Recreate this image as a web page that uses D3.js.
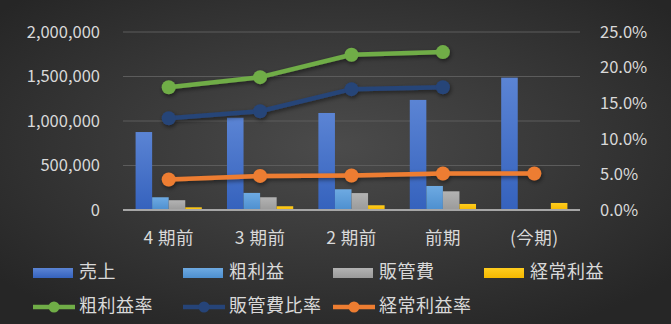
<!DOCTYPE html>
<html>
<head>
<meta charset="utf-8">
<script src="https://d3js.org/d3.v7.min.js"></script>
<style>
  body { margin: 0; background: #2a2a2a; }
  svg { display: block; font-family: "Noto Sans CJK JP", "Noto Sans", sans-serif; }
</style>
</head>
<body>
<svg id="chart" width="671" height="324"></svg>
<script>
// data
const periods = ["4 期前", "3 期前", "2 期前", "前期", "(今期)"];
const sales = [876000, 1037000, 1090000, 1237000, 1487000];
const grossProfit = [143000, 192000, 233000, 270000, 0];
const sgaCost = [110000, 143000, 190000, 210000, 0];
const ordinaryProfit = [30000, 42000, 53000, 68000, 79000];
const grossRate = [0.1725, 0.1866, 0.218, 0.2218, null];
const sgaRate = [0.1288, 0.1387, 0.1697, 0.1725, null];
const ordinaryRate = [0.0428, 0.0479, 0.0485, 0.0513, 0.0513];
const leftTicks = [0, 500000, 1000000, 1500000, 2000000];
const rightTicks = [0, 0.05, 0.10, 0.15, 0.20, 0.25];

const barSeries = [
  { name: "売上", values: sales, top: "#5b84d4", bottom: "#3562bd" },
  { name: "粗利益", values: grossProfit, top: "#6eaae2", bottom: "#4d8fcf" },
  { name: "販管費", values: sgaCost, top: "#b3b3b3", bottom: "#9a9a9a" },
  { name: "経常利益", values: ordinaryProfit, top: "#ffcd1f", bottom: "#f5b800" }
];
const lineSeries = [
  { name: "粗利益率", values: grossRate, color: "#70ad47" },
  { name: "販管費比率", values: sgaRate, color: "#264478" },
  { name: "経常利益率", values: ordinaryRate, color: "#ed7d31" }
];

const svg = d3.select("#chart");
const W = 671, H = 324;
const m = { left: 123, right: 91, top: 32, bottom: 114 };

const defs = svg.append("defs");
const bg = defs.append("radialGradient").attr("id", "bg")
  .attr("cx", "50%").attr("cy", "45%").attr("r", "65%");
bg.append("stop").attr("offset", "0%").attr("stop-color", "#4b4b4b");
bg.append("stop").attr("offset", "100%").attr("stop-color", "#262626");
svg.append("rect").attr("width", W).attr("height", H).attr("fill", "url(#bg)");

barSeries.forEach((s, i) => {
  const g = defs.append("linearGradient").attr("id", "bar" + i)
    .attr("x1", 0).attr("y1", 0).attr("x2", 0).attr("y2", 1);
  g.append("stop").attr("offset", "0%").attr("stop-color", s.top);
  g.append("stop").attr("offset", "100%").attr("stop-color", s.bottom);
});
const shadow = defs.append("filter").attr("id", "shadow")
  .attr("x", "-10%").attr("y", "-30%").attr("width", "120%").attr("height", "160%");
shadow.append("feDropShadow").attr("dx", 1).attr("dy", 2).attr("stdDeviation", 2)
  .attr("flood-color", "#000").attr("flood-opacity", 0.5);

const x = d3.scaleBand().domain(periods).range([m.left, W - m.right]);
const xs = d3.scaleBand().domain(d3.range(barSeries.length))
  .range([0, x.bandwidth()]).paddingOuter(0.76).paddingInner(0);
const y = d3.scaleLinear().domain([0, 2000000]).range([H - m.bottom, m.top]);
const y2 = d3.scaleLinear().domain([0, 0.25]).range([H - m.bottom, m.top]);

// gridlines
svg.append("g").selectAll("line").data(leftTicks.slice(1)).join("line")
  .attr("x1", m.left).attr("x2", W - m.right)
  .attr("y1", d => y(d)).attr("y2", d => y(d))
  .attr("stroke", "#5c5c5c").attr("stroke-width", 1);

const textColor = "#d9d9d9";

// left axis
const yAxis = svg.append("g").attr("transform", `translate(${m.left - 20},0)`)
  .call(d3.axisLeft(y).tickValues(leftTicks).tickFormat(d3.format(",")).tickSize(0));
yAxis.select(".domain").remove();
yAxis.selectAll("text").attr("fill", textColor).attr("font-size", 16.5)
  .attr("font-family", "Noto Sans CJK JP").attr("dx", 0);

// right axis
const yAxis2 = svg.append("g").attr("transform", `translate(${W - m.right + 17},0)`)
  .call(d3.axisRight(y2).tickValues(rightTicks).tickFormat(d3.format(".1%")).tickSize(0));
yAxis2.select(".domain").remove();
yAxis2.selectAll("text").attr("fill", textColor).attr("font-size", 16.5)
  .attr("font-family", "Noto Sans CJK JP");

// bars
barSeries.forEach((s, i) => {
  svg.append("g").selectAll("rect").data(s.values).join("rect")
    .attr("x", (d, j) => x(periods[j]) + xs(i))
    .attr("width", xs.bandwidth())
    .attr("y", d => y(d))
    .attr("height", d => y(0) - y(d))
    .attr("fill", `url(#bar${i})`);
});

// baseline
svg.append("line").attr("x1", m.left).attr("x2", W - m.right)
  .attr("y1", y(0)).attr("y2", y(0)).attr("stroke", "#a6a6a6").attr("stroke-width", 2);

// x labels
svg.append("g").selectAll("text").data(periods).join("text")
  .attr("x", d => x(d) + x.bandwidth() / 2).attr("y", 243.5)
  .attr("text-anchor", "middle").attr("fill", textColor).attr("font-size", 17.5)
  .attr("letter-spacing", 0.5)
  .text(d => d);

// lines
const line = d3.line()
  .defined(d => d != null)
  .x((d, j) => x(periods[j]) + x.bandwidth() / 2)
  .y(d => y2(d));
lineSeries.forEach(s => {
  const g = svg.append("g").attr("filter", "url(#shadow)");
  g.append("path").datum(s.values).attr("d", line)
    .attr("fill", "none").attr("stroke", s.color).attr("stroke-width", 4.5)
    .attr("stroke-linejoin", "round");
  g.selectAll("circle").data(s.values.map((v, j) => ({ v, j })).filter(d => d.v != null))
    .join("circle")
    .attr("cx", d => x(periods[d.j]) + x.bandwidth() / 2)
    .attr("cy", d => y2(d.v))
    .attr("r", 7).attr("fill", s.color);
});

// legend
const legendX = [33, 183, 333, 484];
const leg1 = svg.append("g");
barSeries.forEach((s, i) => {
  leg1.append("rect").attr("x", legendX[i]).attr("y", 268).attr("width", 40).attr("height", 10)
    .attr("fill", `url(#bar${i})`);
  leg1.append("text").attr("x", legendX[i] + 46).attr("y", 278)
    .attr("fill", textColor).attr("font-size", 18).attr("letter-spacing", 0.5).text(s.name);
});
const leg2 = svg.append("g");
lineSeries.forEach((s, i) => {
  const lx = legendX[i];
  leg2.append("line").attr("x1", lx).attr("x2", lx + 42).attr("y1", 307).attr("y2", 307)
    .attr("stroke", s.color).attr("stroke-width", 4.5);
  leg2.append("circle").attr("cx", lx + 21).attr("cy", 307).attr("r", 5.5).attr("fill", s.color);
  leg2.append("text").attr("x", lx + 46).attr("y", 312)
    .attr("fill", textColor).attr("font-size", 18).attr("letter-spacing", 0.5).text(s.name);
});
</script>
</body>
</html>
